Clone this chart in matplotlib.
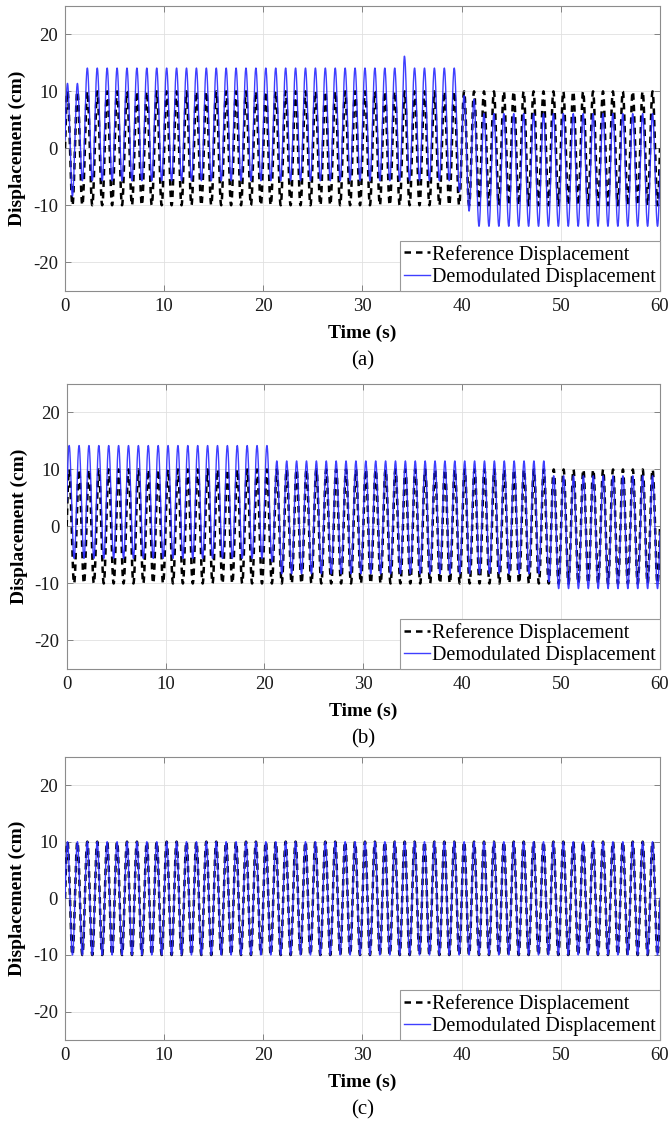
import numpy as np
import matplotlib
matplotlib.use("Agg")
import matplotlib.pyplot as plt

# ---------------- data ----------------
FREQ_HZ = 1.0                 # oscillation frequency of both signals
T_END = 60.0
REF_AMP = 10.0                # reference displacement amplitude (cm)
DEMOD_AMP = [9.9, 9.9, 10.0]  # demodulated amplitude per panel (cm)

# offset (cm) of the demodulated signal, as breakpoints (time s, offset cm)
A_OFF_T = [0.0, 1.4, 1.6, 33.9, 34.2, 34.5, 39.6, 40.0, 40.7, 41.3, 41.6, 60.0]
A_OFF_V = [1.5, 1.5, 4.2, 4.2, 6.6, 4.2, 4.2, -0.4, -1.1, -1.3, -3.8, -3.8]
B_OFF_T = [0.0, 20.7, 21.0, 48.6, 48.9, 60.0]
B_OFF_V = [4.3, 4.3, 1.6, 1.6, -1.0, -1.0]
C_OFF_T = [0.0, 60.0]
C_OFF_V = [0.0, 0.0]

PANEL_LABELS = ["(a)", "(b)", "(c)"]
X_TICKS = [0, 10, 20, 30, 40, 50, 60]
Y_TICKS = [-20, -10, 0, 10, 20]
LEGEND_LABELS = ["Reference Displacement", "Demodulated Displacement"]
XLABEL = "Time (s)"
YLABEL = "Displacement (cm)"

# ---------------- figure ----------------
plt.rcParams["font.family"] = ["Liberation Serif", "DejaVu Serif"]
plt.rcParams["axes.unicode_minus"] = False
fig = plt.figure(figsize=(6.68, 11.27), dpi=100)

axes_rects = [
    [0.0973, 0.7421, 0.8907, 0.2526],
    [0.0998, 0.4064, 0.8882, 0.2529],
    [0.0973, 0.0772, 0.8907, 0.2514],
]
offsets = [(A_OFF_T, A_OFF_V), (B_OFF_T, B_OFF_V), (C_OFF_T, C_OFF_V)]

t = np.linspace(0.0, T_END, 12001)
phase = np.sin(2 * np.pi * FREQ_HZ * t)

for i, rect in enumerate(axes_rects):
    ax = fig.add_axes(rect)
    ref = REF_AMP * phase
    off = np.interp(t, offsets[i][0], offsets[i][1])
    demod = DEMOD_AMP[i] * phase + off

    ax.plot(t, ref, color="black", lw=1.8, linestyle=(0, (2.6, 2.0)),
            label=LEGEND_LABELS[0], zorder=3)
    ax.plot(t, demod, color="#2a2aff", lw=1.0, label=LEGEND_LABELS[1],
            zorder=4, alpha=0.9)

    ax.set_xlim(0, 60)
    ax.set_ylim(-25, 25)
    ax.set_xticks(X_TICKS)
    ax.set_yticks(Y_TICKS)
    ax.grid(True, color="0.88", lw=0.6)
    ax.set_axisbelow(True)
    ax.tick_params(direction="in", top=True, right=True, length=4,
                   width=0.6, color="0.45", labelsize=13.5,
                   labelcolor="0.1", pad=5)
    for s in ax.spines.values():
        s.set_color("0.55")
        s.set_linewidth(0.8)

    ax.set_xlabel(XLABEL, fontsize=14, fontweight="bold", labelpad=7)
    ax.set_ylabel(YLABEL, fontsize=14, fontweight="bold", labelpad=5)

    leg = ax.legend(loc="lower right", borderaxespad=0.0, fontsize=14.5,
                    frameon=True, fancybox=False, framealpha=1.0,
                    edgecolor="0.6", handlelength=1.3, handletextpad=0.1,
                    borderpad=0.2, labelspacing=0.15)
    leg.get_frame().set_linewidth(0.8)

    ax.text(0.5, -0.245, PANEL_LABELS[i], transform=ax.transAxes,
            ha="center", va="center", fontsize=15)

fig.savefig("out.png", dpi=100)
